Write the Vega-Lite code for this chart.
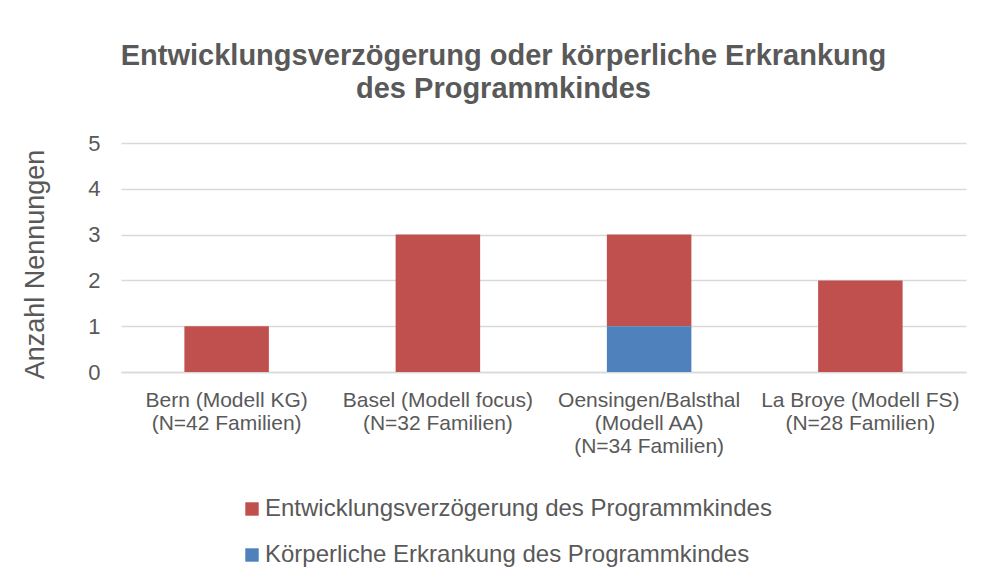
{
  "$schema": "https://vega.github.io/schema/vega-lite/v6.json",
  "width": 845,
  "height": 229,
  "autosize": {"type": "none"},
  "padding": {"left": 121, "top": 143, "right": 20, "bottom": 214},
  "background": "white",
  "title": {
    "text": ["Entwicklungsverzögerung oder körperliche Erkrankung", "des Programmkindes"],
    "anchor": "middle",
    "frame": "group",
    "dx": -40,
    "offset": 28,
    "font": "Liberation Sans",
    "fontSize": 29,
    "fontWeight": "bold",
    "color": "#595959",
    "lineHeight": 33
  },
  "data": {
    "values": [
      {"Standort": "Bern (Modell KG)|(N=42 Familien)", "Kategorie": "Entwicklungsverzögerung des Programmkindes", "Anzahl": 1},
      {"Standort": "Basel (Modell focus)|(N=32 Familien)", "Kategorie": "Entwicklungsverzögerung des Programmkindes", "Anzahl": 3},
      {"Standort": "Oensingen/Balsthal|(Modell AA)|(N=34 Familien)", "Kategorie": "Entwicklungsverzögerung des Programmkindes", "Anzahl": 2},
      {"Standort": "Oensingen/Balsthal|(Modell AA)|(N=34 Familien)", "Kategorie": "Körperliche Erkrankung des Programmkindes", "Anzahl": 1},
      {"Standort": "La Broye (Modell FS)|(N=28 Familien)", "Kategorie": "Entwicklungsverzögerung des Programmkindes", "Anzahl": 2}
    ]
  },
  "mark": {"type": "bar"},
  "encoding": {
    "x": {
      "field": "Standort",
      "type": "nominal",
      "sort": null,
      "scale": {"paddingInner": 0.6, "paddingOuter": 0.3},
      "axis": {
        "title": null,
        "labelAngle": 0,
        "labelExpr": "split(datum.label, '|')",
        "labelFont": "Liberation Sans",
        "labelFontSize": 21,
        "labelColor": "#595959",
        "labelLineHeight": 23,
        "labelPadding": 17,
        "labelBaseline": "top",
        "labelLimit": 300,
        "ticks": false,
        "domainColor": "#d9d9d9",
        "domainWidth": 1.5,
        "grid": false
      }
    },
    "y": {
      "field": "Anzahl",
      "type": "quantitative",
      "aggregate": "sum",
      "stack": "zero",
      "scale": {"domain": [0, 5], "nice": false},
      "axis": {
        "title": "Anzahl Nennungen",
        "titleFont": "Liberation Sans",
        "titleFontSize": 27,
        "titleFontWeight": "normal",
        "titleColor": "#595959",
        "titlePadding": 38,
        "titleY": 121,
        "values": [0, 1, 2, 3, 4, 5],
        "labelFont": "Liberation Sans",
        "labelFontSize": 22,
        "labelColor": "#595959",
        "labelPadding": 21,
        "ticks": false,
        "domain": false,
        "gridColor": "#d9d9d9",
        "gridWidth": 1.5
      }
    },
    "color": {
      "field": "Kategorie",
      "type": "nominal",
      "scale": {
        "domain": ["Entwicklungsverzögerung des Programmkindes", "Körperliche Erkrankung des Programmkindes"],
        "range": ["#c0504d", "#4f81bd"]
      },
      "legend": {
        "title": null,
        "orient": "none",
        "legendX": 119,
        "legendY": 354,
        "direction": "vertical",
        "symbolType": "square",
        "symbolSize": 180,
        "symbolStrokeWidth": 0,
        "labelFont": "Liberation Sans",
        "labelFontSize": 24,
        "labelColor": "#595959",
        "labelOffset": 1,
        "rowPadding": 22,
        "padding": 0,
        "labelLimit": 800
      }
    },
    "order": {"field": "Kategorie", "sort": "descending"}
  },
  "config": {
    "view": {"stroke": null},
    "axis": {"gridColor": "#d9d9d9"}
  }
}
